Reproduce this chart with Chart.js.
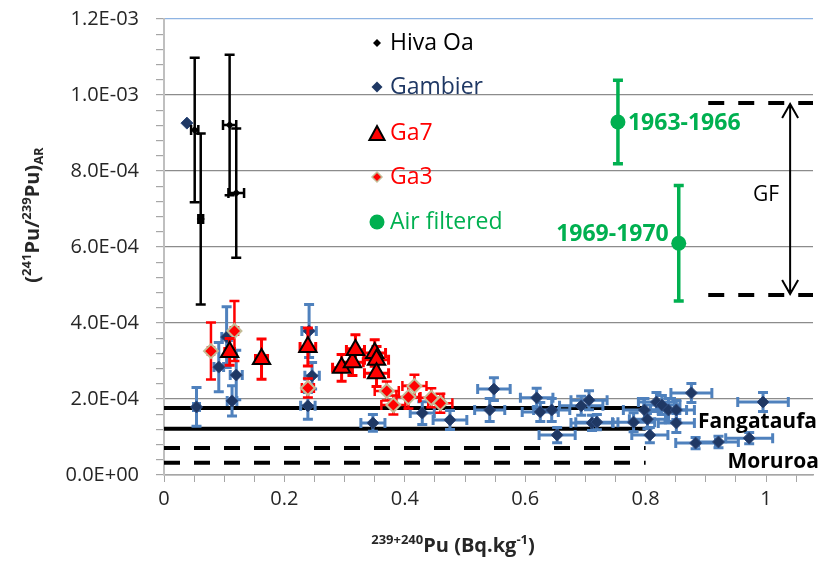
<!DOCTYPE html>
<html>
<head>
<meta charset="utf-8">
<script src="https://cdn.jsdelivr.net/npm/chart.js@4.4.1/dist/chart.umd.min.js"></script>
<style>
    html, body { margin: 0; padding: 0; background: #fff; }
</style>
</head>
<body>
<canvas id="myChart" width="825" height="562"></canvas>
<script>
// Hiva Oa
const hivaX = [0.051, 0.061, 0.109, 0.120]
const hivaY = [9.08e-4, 6.74e-4, 9.21e-4, 7.42e-4]
const hivaXErr = [0.006, 0.004, 0.011, 0.013]
const hivaYErr = [1.9e-4, 2.25e-4, 1.85e-4, 1.7e-4]

// Gambier
const gambierX = [0.038, 0.054, 0.091, 0.104, 0.113, 0.120, 0.241, 0.246, 0.239, 0.347, 0.429, 0.475,
    0.541, 0.548, 0.619, 0.625, 0.644, 0.653, 0.693, 0.706, 0.711, 0.719, 0.780, 0.798, 0.803, 0.807,
    0.818, 0.827, 0.838, 0.851, 0.851, 0.876, 0.883, 0.921, 0.972, 0.995]
const gambierY = [9.26e-4, 1.79e-4, 2.84e-4, 3.63e-4, 1.95e-4, 2.63e-4, 3.79e-4, 2.61e-4, 1.82e-4, 1.37e-4, 1.63e-4, 1.45e-4,
    1.71e-4, 2.26e-4, 2.03e-4, 1.66e-4, 1.71e-4, 1.05e-4, 1.82e-4, 1.97e-4, 1.37e-4, 1.39e-4, 1.39e-4, 1.71e-4, 1.47e-4, 1.05e-4,
    1.92e-4, 1.84e-4, 1.71e-4, 1.71e-4, 1.37e-4, 2.16e-4, 8.4e-5, 8.7e-5, 9.7e-5, 1.92e-4]
const gambierXErr = [0, 0.005, 0.008, 0.008, 0.008, 0.010, 0.012, 0.012, 0.012, 0.020, 0.020, 0.028,
    0.025, 0.027, 0.027, 0.030, 0.030, 0.030, 0.036, 0.030, 0.035, 0.035, 0.035, 0.035, 0.030, 0.030,
    0.030, 0.030, 0.030, 0.030, 0.030, 0.034, 0.033, 0.033, 0.039, 0.042]
const gambierYErr = [0, 5.1e-5, 6.5e-5, 8.0e-5, 4.0e-5, 6.5e-5, 7.0e-5, 3.5e-5, 3.5e-5, 2.2e-5, 3.0e-5, 2.5e-5,
    3.0e-5, 3.0e-5, 2.5e-5, 2.5e-5, 3.0e-5, 2.0e-5, 2.5e-5, 2.5e-5, 2.0e-5, 2.0e-5, 2.5e-5, 3.0e-5, 2.5e-5, 2.0e-5,
    2.5e-5, 2.5e-5, 3.0e-5, 2.5e-5, 2.5e-5, 2.5e-5, 1.5e-5, 1.5e-5, 1.5e-5, 2.5e-5]

// Ga7
const ga7X = [0.109, 0.162, 0.239, 0.295, 0.313, 0.318, 0.350, 0.353, 0.353]
const ga7Y = [3.24e-4, 3.05e-4, 3.37e-4, 2.82e-4, 2.97e-4, 3.29e-4, 3.21e-4, 3.03e-4, 2.68e-4]
const ga7XErr = [0.008, 0.010, 0.013, 0.015, 0.018, 0.015, 0.018, 0.020, 0.020]
const ga7YErr = [3.5e-5, 5.3e-5, 5.0e-5, 3.5e-5, 3.5e-5, 4.0e-5, 3.5e-5, 3.5e-5, 3.5e-5]

// Ga3
const ga3X = [0.078, 0.117, 0.239, 0.370, 0.381, 0.406, 0.416, 0.444, 0.459]
const ga3Y = [3.26e-4, 3.79e-4, 2.29e-4, 2.21e-4, 1.84e-4, 2.05e-4, 2.34e-4, 2.03e-4, 1.89e-4]
const ga3XErr = [0.005, 0.006, 0.010, 0.020, 0.020, 0.020, 0.020, 0.020, 0.020]
const ga3YErr = [7.5e-5, 7.9e-5, 2.5e-5, 2.5e-5, 2.5e-5, 3.0e-5, 3.0e-5, 2.5e-5, 2.5e-5]

// Air filtered
const airX = [0.754, 0.855]
const airY = [9.29e-4, 6.10e-4]
const airYErr = [1.1e-4, 1.52e-4]
const airLabels = ['1963-1966', '1969-1970']

// reference levels (x range 0 - 0.8)
const refX = [0, 0.8]
const fangataufaY = [1.76e-4, 1.22e-4]
const moruroaY = [7.1e-5, 3.2e-5]
// GF range
const gfX = [0.904, 1.09]
const gfY = [9.79e-4, 4.74e-4]
const gfArrowX = 1.04

const legendNames = ['Hiva Oa', 'Gambier', 'Ga7', 'Ga3', 'Air filtered']

const FONT = "'Open Sans', sans-serif"
const toPts = (xs, ys) => xs.map((x, i) => ({ x: x, y: ys[i] }))

function fmtE(v) {
    if (Math.abs(v) < 1e-12) return '0.0E+00'
    let e = Math.floor(Math.log10(Math.abs(v)) + 1e-6)
    let m = v / Math.pow(10, e)
    return m.toFixed(1) + 'E' + (e < 0 ? '-' : '+') + String(Math.abs(e)).padStart(2, '0')
}
const isMajorY = v => Math.abs(v / 2e-4 - Math.round(v / 2e-4)) < 1e-6

function drawMarker(ctx, style, x, y, r, fill, stroke, lw) {
    ctx.save()
    ctx.beginPath()
    if (style === 'rectRot') {
        ctx.moveTo(x, y - r); ctx.lineTo(x + r, y); ctx.lineTo(x, y + r); ctx.lineTo(x - r, y)
    } else if (style === 'triangle') {
        ctx.moveTo(x, y - r); ctx.lineTo(x + r * 0.95, y + r * 0.75); ctx.lineTo(x - r * 0.95, y + r * 0.75)
    } else {
        ctx.arc(x, y, r, 0, Math.PI * 2)
    }
    ctx.closePath()
    ctx.fillStyle = fill
    ctx.fill()
    if (lw) {
        ctx.lineWidth = lw
        ctx.strokeStyle = stroke
        ctx.stroke()
    }
    ctx.restore()
}

// error bars drawn just before each dataset
const errorBars = {
    id: 'errorBars',
    beforeDatasetDraw(chart, args) {
        const ds = chart.data.datasets[args.index]
        if (!ds.errY && !ds.errX) return
        const ctx = chart.ctx
        const xs = chart.scales.x, ys = chart.scales.y
        ctx.save()
        ctx.strokeStyle = ds.errColor
        ctx.lineWidth = ds.errWidth
        const cap = 5
        ds.data.forEach((p, i) => {
            const px = xs.getPixelForValue(p.x), py = ys.getPixelForValue(p.y)
            const ey = ds.errY ? ds.errY[i] : 0
            const ex = ds.errX ? ds.errX[i] : 0
            ctx.beginPath()
            if (ey > 0) {
                const t = ys.getPixelForValue(p.y + ey), b = ys.getPixelForValue(p.y - ey)
                ctx.moveTo(px, t); ctx.lineTo(px, b)
                ctx.moveTo(px - cap, t); ctx.lineTo(px + cap, t)
                ctx.moveTo(px - cap, b); ctx.lineTo(px + cap, b)
            }
            if (ex > 0) {
                const l = xs.getPixelForValue(p.x - ex), r = xs.getPixelForValue(p.x + ex)
                ctx.moveTo(l, py); ctx.lineTo(r, py)
                ctx.moveTo(l, py - cap); ctx.lineTo(l, py + cap)
                ctx.moveTo(r, py - cap); ctx.lineTo(r, py + cap)
            }
            ctx.stroke()
        })
        ctx.restore()
    }
}

// legend, titles, labels and GF arrow
const extras = {
    id: 'extras',
    afterDraw(chart) {
        const ctx = chart.ctx
        const xs = chart.scales.x, ys = chart.scales.y
        ctx.save()

        // legend inside plot
        const legendStyles = [
            { style: 'rectRot', r: 4, fill: '#000', stroke: '#000', lw: 0, color: '#000000' },
            { style: 'rectRot', r: 5.5, fill: '#1F3864', stroke: '#1F3864', lw: 0, color: '#1F3864' },
            { style: 'triangle', r: 8, fill: '#FF0000', stroke: '#000', lw: 2, color: '#FF0000' },
            { style: 'rectRot', r: 5, fill: '#FF0000', stroke: '#C4BD97', lw: 1.5, color: '#FF0000' },
            { style: 'circle', r: 7.5, fill: '#00B050', stroke: '#00B050', lw: 0, color: '#00B050' }
        ]
        const ly = [43, 87, 133, 177, 222]
        ctx.font = '23px ' + FONT
        ctx.textBaseline = 'middle'
        ctx.textAlign = 'left'
        legendNames.forEach((name, i) => {
            const s = legendStyles[i]
            drawMarker(ctx, s.style, 377, ly[i] + (s.style === 'triangle' ? 1 : 0), s.r, s.fill, s.stroke, s.lw)
            ctx.fillStyle = s.color
            ctx.fillText(name, 390, ly[i])
        })

        // Air filtered labels
        ctx.font = 'bold 23px ' + FONT
        ctx.fillStyle = '#00B050'
        ctx.textAlign = 'left'
        ctx.fillText(airLabels[0], xs.getPixelForValue(airX[0]) + 10, ys.getPixelForValue(airY[0]) + 1)
        ctx.textAlign = 'right'
        ctx.fillText(airLabels[1], xs.getPixelForValue(airX[1]) - 10, ys.getPixelForValue(airY[1]) - 9)

        // site labels
        ctx.fillStyle = '#000'
        ctx.textAlign = 'left'
        ctx.font = 'bold 21px ' + FONT
        ctx.fillText('Fangataufa', xs.getPixelForValue(0.887), ys.getPixelForValue(1.39e-4))
        ctx.fillText('Moruroa', xs.getPixelForValue(0.936), ys.getPixelForValue(3.4e-5))

        // GF arrow
        const ax = xs.getPixelForValue(gfArrowX)
        const at = ys.getPixelForValue(gfY[0]), ab = ys.getPixelForValue(gfY[1])
        ctx.strokeStyle = '#000'
        ctx.lineWidth = 2
        ctx.beginPath()
        ctx.moveTo(ax, at + 1); ctx.lineTo(ax, ab - 1)
        ctx.moveTo(ax - 8, at + 15); ctx.lineTo(ax, at + 1); ctx.lineTo(ax + 8, at + 15)
        ctx.moveTo(ax - 8, ab - 15); ctx.lineTo(ax, ab - 1); ctx.lineTo(ax + 8, ab - 15)
        ctx.stroke()
        ctx.font = '21px ' + FONT
        ctx.textAlign = 'center'
        ctx.fillText('GF', xs.getPixelForValue(1.0), (at + ab) / 2 - 4)

        // axis titles with super/subscripts
        function richText(parts, cx, cy, rotate) {
            ctx.save()
            ctx.translate(cx, cy)
            if (rotate) ctx.rotate(-Math.PI / 2)
            ctx.textAlign = 'left'
            ctx.textBaseline = 'alphabetic'
            let total = 0
            parts.forEach(p => { ctx.font = p.font; total += ctx.measureText(p.t).width })
            let x = -total / 2
            parts.forEach(p => {
                ctx.font = p.font
                ctx.fillStyle = '#262626'
                ctx.fillText(p.t, x, 7 + p.dy)
                x += ctx.measureText(p.t).width
            })
            ctx.restore()
        }
        const big = 'bold 20px ' + FONT, small = 'bold 13px ' + FONT
        richText([
            { t: '(', font: big, dy: 0 },
            { t: '241', font: small, dy: -8 },
            { t: 'Pu/', font: big, dy: 0 },
            { t: '239', font: small, dy: -8 },
            { t: 'Pu)', font: big, dy: 0 },
            { t: 'AR', font: small, dy: 4 }
        ], 32, 215, true)
        richText([
            { t: '239+240', font: small, dy: -8 },
            { t: 'Pu (Bq.kg', font: big, dy: 0 },
            { t: '-1', font: small, dy: -8 },
            { t: ')', font: big, dy: 0 }
        ], 453, 545, false)

        ctx.restore()
    }
}

const hLine = (xs, y, dashed) => ({
    type: 'line',
    data: toPts(xs, [y, y]),
    showLine: true,
    borderColor: '#000',
    borderWidth: 4,
    borderDash: dashed ? [16, 14] : [],
    borderCapStyle: 'butt',
    pointRadius: 0,
    fill: false
})

const data = {
    datasets: [
        {
            label: 'Hiva Oa',
            data: toPts(hivaX, hivaY),
            pointStyle: 'rectRot', pointRadius: 4, backgroundColor: '#000', borderColor: '#000', borderWidth: 0,
            errX: hivaXErr, errY: hivaYErr, errColor: '#000', errWidth: 2.5
        },
        {
            label: 'Ga7',
            data: toPts(ga7X, ga7Y),
            pointStyle: 'triangle', pointRadius: 10, backgroundColor: '#FF0000', borderColor: '#000', borderWidth: 2,
            errX: ga7XErr, errY: ga7YErr, errColor: '#FF0000', errWidth: 3
        },
        {
            label: 'Ga3',
            data: toPts(ga3X, ga3Y),
            pointStyle: 'rectRot', pointRadius: 7, backgroundColor: '#FF0000', borderColor: '#C4BD97', borderWidth: 2,
            errX: ga3XErr, errY: ga3YErr, errColor: '#FF0000', errWidth: 2.5
        },
        {
            label: 'Gambier',
            data: toPts(gambierX, gambierY),
            pointStyle: 'rectRot', pointRadius: 6, backgroundColor: '#1F3864', borderColor: '#2E4A7D', borderWidth: 1,
            errX: gambierXErr, errY: gambierYErr, errColor: '#4F81BD', errWidth: 3
        },
        {
            label: 'Air filtered',
            data: toPts(airX, airY),
            pointStyle: 'circle', pointRadius: 7.5, backgroundColor: '#00B050', borderColor: '#00B050', borderWidth: 0,
            errY: airYErr, errColor: '#00B050', errWidth: 3.5
        },
        hLine(refX, fangataufaY[0], false),
        hLine(refX, fangataufaY[1], false),
        hLine(refX, moruroaY[0], true),
        hLine(refX, moruroaY[1], true),
        hLine(gfX, gfY[0], true),
        hLine(gfX, gfY[1], true)
    ]
}

const config = {
    type: 'scatter',
    data: data,
    options: {
        responsive: false,
        animation: false,
        layout: {
            padding: { top: 19, right: 3, left: 0, bottom: 0 }
        },
        plugins: {
            legend: { display: false },
            tooltip: { enabled: false }
        },
        scales: {
            x: {
                type: 'linear',
                min: 0,
                max: 1.078,
                afterFit: scale => {
                    scale.height = 87
                    scale.paddingLeft = 0
                    scale.paddingRight = 0
                },
                border: { color: '#A6A6A6', width: 1.5 },
                grid: { drawOnChartArea: false, tickLength: 7, tickColor: '#A6A6A6' },
                ticks: {
                    stepSize: 0.05,
                    includeBounds: false,
                    autoSkip: false,
                    maxRotation: 0,
                    padding: 5,
                    color: '#262626',
                    font: { family: FONT, size: 20 },
                    callback: v => {
                        const k = v / 0.2
                        return Math.abs(k - Math.round(k)) < 1e-6 ? String(Math.round(v * 10) / 10) : ''
                    }
                }
            },
            y: {
                type: 'linear',
                min: 0,
                max: 1.2e-3,
                afterFit: scale => {
                    scale.width = 164
                    scale.paddingTop = 0
                    scale.paddingBottom = 0
                },
                border: { color: '#BFBFBF', width: 2 },
                grid: {
                    tickLength: 8,
                    tickColor: '#A6A6A6',
                    color: c => {
                        const v = c.tick ? c.tick.value : 0
                        if (!isMajorY(v)) return 'rgba(0,0,0,0)'
                        return v > 1.1e-3 ? '#8EB4E3' : '#8C8C8C'
                    },
                    lineWidth: 1.2
                },
                ticks: {
                    stepSize: 4e-5,
                    autoSkip: false,
                    padding: 17,
                    color: '#262626',
                    font: { family: FONT, size: 20 },
                    callback: v => isMajorY(v) ? fmtE(v) : ''
                }
            }
        }
    },
    plugins: [errorBars, extras]
}

new Chart(document.getElementById('myChart'), config)
</script>
</body>
</html>
